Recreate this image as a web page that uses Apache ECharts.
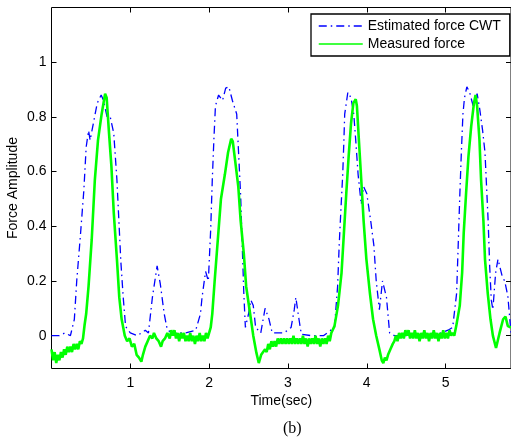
<!DOCTYPE html>
<html>
<head>
<meta charset="utf-8">
<script src="https://cdn.jsdelivr.net/npm/echarts@6/dist/echarts.min.js"></script>
<style>html,body{margin:0;padding:0;background:#fff}#c{width:511px;height:442px}</style>
</head>
<body>
<div id="c"></div>
<script>
// x tick values / labels
var xTicks = [1, 2, 3, 4, 5];
var yTicks = [0, 0.2, 0.4, 0.6, 0.8, 1];
var yTickLabels = ['0', '0.2', '0.4', '0.6', '0.8', '1'];
var seriesNames = ['Estimated force CWT', 'Measured force'];

// Estimated force CWT [time, amplitude]
var estimated = [
[0,0],[0.1,0],[0.17,0.01],[0.24,0.0],[0.29,0.06],[0.32,0.2],[0.365,0.36],[0.41,0.53],[0.44,0.69],[0.47,0.75],[0.49,0.715],[0.54,0.79],[0.58,0.85],[0.63,0.88],[0.66,0.86],[0.705,0.80],[0.745,0.80],[0.79,0.74],[0.83,0.57],[0.855,0.42],[0.88,0.27],[0.91,0.14],[0.94,0.034],[1.0,0.01],[1.09,0.0],[1.19,0.02],[1.23,0.01],[1.28,0.14],[1.34,0.255],[1.38,0.19],[1.43,0.08],[1.47,0.02],[1.55,0.01],[1.7,0.01],[1.83,0.02],[1.89,0.08],[1.91,0.14],[1.955,0.235],[1.99,0.2],[2.02,0.39],[2.04,0.57],[2.06,0.715],[2.08,0.84],[2.12,0.88],[2.17,0.86],[2.21,0.905],[2.25,0.91],[2.295,0.86],[2.35,0.81],[2.37,0.69],[2.40,0.51],[2.42,0.33],[2.44,0.155],[2.46,0.03],[2.50,0.08],[2.53,0.13],[2.56,0.11],[2.59,0.03],[2.655,0.01],[2.71,0.1],[2.76,0.06],[2.80,0.01],[2.95,0.01],[3.04,0.03],[3.08,0.095],[3.10,0.14],[3.14,0.06],[3.17,0.005],[3.3,0.0],[3.45,0.0],[3.59,0.03],[3.63,0.18],[3.65,0.33],[3.67,0.45],[3.695,0.59],[3.71,0.715],[3.72,0.81],[3.76,0.89],[3.80,0.87],[3.835,0.81],[3.86,0.715],[3.89,0.59],[3.93,0.48],[3.96,0.545],[4.0,0.52],[4.05,0.42],[4.09,0.33],[4.12,0.2],[4.16,0.095],[4.20,0.2],[4.22,0.205],[4.25,0.14],[4.29,0.01],[4.35,0.0],[4.6,0.0],[4.85,0.0],[5.03,0.02],[5.09,0.03],[5.14,0.155],[5.16,0.33],[5.18,0.51],[5.20,0.67],[5.22,0.81],[5.24,0.87],[5.27,0.91],[5.305,0.89],[5.35,0.84],[5.40,0.885],[5.43,0.835],[5.47,0.75],[5.50,0.67],[5.52,0.545],[5.54,0.42],[5.56,0.25],[5.58,0.13],[5.60,0.095],[5.635,0.23],[5.665,0.28],[5.69,0.25],[5.72,0.215],[5.75,0.2],[5.79,0.145],[5.83,0.01]
];

// Measured force [time, amplitude] (noisy trace)
var measured = [
[0.00,-0.05],[0.02,-0.09],[0.04,-0.06],[0.06,-0.10],[0.08,-0.07],[0.10,-0.09],[0.12,-0.06],[0.14,-0.08],[0.16,-0.05],[0.18,-0.07],[0.20,-0.04],[0.22,-0.06],[0.24,-0.04],[0.26,-0.06],[0.28,-0.03],[0.30,-0.05],[0.32,-0.03],[0.34,-0.05],[0.36,-0.02],[0.38,-0.03],[0.40,-0.01],[0.42,0.04],[0.44,0.08],[0.47,0.18],[0.51,0.35],[0.55,0.57],[0.59,0.715],[0.636,0.81],[0.68,0.885],[0.70,0.87],[0.73,0.74],[0.76,0.62],[0.79,0.45],[0.83,0.28],[0.86,0.14],[0.89,0.06],[0.93,0.0],[0.96,-0.02],[0.99,-0.01],[1.02,-0.04],[1.05,-0.03],[1.08,-0.07],[1.11,-0.08],[1.14,-0.095],[1.16,-0.07],[1.19,-0.04],[1.22,-0.02],[1.25,0.0],[1.28,-0.01],[1.30,0.01],[1.33,-0.01],[1.36,-0.02],[1.39,-0.04],[1.41,-0.02],[1.44,-0.01],[1.47,0.01],[1.50,-0.01],[1.52,0.02],[1.54,0.0],[1.56,0.02],[1.58,-0.01],[1.60,0.01],[1.62,-0.02],[1.64,0.01],[1.66,-0.01],[1.68,0.01],[1.70,-0.02],[1.72,0.0],[1.74,-0.02],[1.76,0.01],[1.78,-0.02],[1.80,0.0],[1.82,-0.03],[1.84,0.0],[1.86,-0.02],[1.88,0.01],[1.90,-0.02],[1.92,0.0],[1.94,-0.02],[1.96,0.01],[1.98,-0.01],[2.00,0.01],[2.02,0.03],[2.04,0.08],[2.07,0.2],[2.11,0.35],[2.15,0.5],[2.20,0.59],[2.24,0.67],[2.28,0.72],[2.30,0.71],[2.33,0.64],[2.37,0.545],[2.40,0.42],[2.44,0.30],[2.47,0.18],[2.52,0.08],[2.56,0.0],[2.60,-0.063],[2.63,-0.1],[2.66,-0.07],[2.685,-0.06],[2.71,-0.05],[2.73,-0.06],[2.75,-0.03],[2.77,-0.05],[2.79,-0.02],[2.81,-0.04],[2.83,-0.02],[2.85,-0.04],[2.87,-0.01],[2.89,-0.03],[2.91,-0.01],[2.93,-0.03],[2.95,-0.01],[2.97,-0.03],[2.99,-0.01],[3.01,-0.03],[3.03,-0.01],[3.05,-0.03],[3.07,0.0],[3.09,-0.03],[3.11,-0.01],[3.13,-0.03],[3.15,-0.01],[3.17,-0.03],[3.19,0.0],[3.21,-0.03],[3.23,-0.01],[3.25,-0.04],[3.27,-0.01],[3.29,-0.03],[3.31,-0.01],[3.33,-0.03],[3.35,0.0],[3.37,-0.03],[3.39,-0.01],[3.41,-0.04],[3.43,-0.01],[3.45,-0.03],[3.47,-0.01],[3.49,-0.03],[3.51,0.0],[3.53,-0.02],[3.55,0.01],[3.59,0.035],[3.635,0.11],[3.68,0.23],[3.71,0.375],[3.74,0.52],[3.77,0.655],[3.80,0.775],[3.83,0.85],[3.86,0.865],[3.875,0.84],[3.90,0.715],[3.93,0.57],[3.96,0.42],[3.995,0.28],[4.04,0.155],[4.08,0.06],[4.12,0.0],[4.16,-0.05],[4.19,-0.09],[4.21,-0.1],[4.23,-0.08],[4.25,-0.09],[4.27,-0.07],[4.30,-0.05],[4.33,-0.03],[4.35,-0.02],[4.37,0.0],[4.39,-0.02],[4.41,0.01],[4.43,-0.01],[4.45,0.01],[4.47,-0.01],[4.49,0.02],[4.51,0.0],[4.53,0.02],[4.55,-0.01],[4.57,0.01],[4.59,-0.01],[4.61,0.02],[4.63,-0.01],[4.65,0.01],[4.67,-0.02],[4.69,0.01],[4.71,-0.01],[4.73,0.02],[4.75,-0.01],[4.77,0.01],[4.79,-0.02],[4.81,0.01],[4.83,-0.01],[4.85,0.02],[4.87,-0.01],[4.89,0.01],[4.91,-0.02],[4.93,0.01],[4.95,-0.01],[4.97,0.02],[4.99,-0.01],[5.01,0.01],[5.03,-0.01],[5.05,0.02],[5.07,0.0],[5.09,0.01],[5.11,0.0],[5.135,0.035],[5.18,0.11],[5.21,0.23],[5.23,0.375],[5.26,0.52],[5.29,0.655],[5.325,0.765],[5.36,0.85],[5.38,0.88],[5.40,0.84],[5.43,0.715],[5.45,0.57],[5.48,0.42],[5.50,0.28],[5.535,0.155],[5.57,0.06],[5.60,0.0],[5.64,-0.045],[5.685,0.01],[5.73,0.06],[5.76,0.07],[5.79,0.035],[5.83,0.03]
];

var X_MIN = 0, X_MAX = 5.83, Y_MIN = -0.12, Y_MAX = 1.2;
var FONT = 'Liberation Sans, Arial, sans-serif';

var chart = echarts.init(document.getElementById('c'), null, {renderer: 'canvas'});

function mkX(pos, labels) {
  return {
    type: 'value', position: pos, min: X_MIN, max: X_MAX,
    axisLine: {show: false, onZero: false},
    splitLine: {show: false},
    axisTick: {show: true, inside: true, length: 5, customValues: xTicks, lineStyle: {color: '#000', width: 1}},
    axisLabel: {show: labels, customValues: xTicks, color: '#000', fontSize: 14, fontFamily: FONT, margin: 8},
    name: labels ? 'Time(sec)' : '', nameLocation: 'middle', nameGap: 26, nameMoveOverlap: false,
    nameTextStyle: {color: '#000', fontSize: 14, fontFamily: FONT}
  };
}
function mkY(pos, labels) {
  return {
    type: 'value', position: pos, min: Y_MIN, max: Y_MAX,
    axisLine: {show: false, onZero: false},
    splitLine: {show: false},
    axisTick: {show: true, inside: true, length: 5, customValues: yTicks, lineStyle: {color: '#000', width: 1}},
    axisLabel: {show: labels, customValues: yTicks, color: '#000', fontSize: 14, fontFamily: FONT, margin: 5,
      formatter: function (v) { var i = yTicks.indexOf(v); return i >= 0 ? yTickLabels[i] : ''; }},
    name: labels ? 'Force Amplitude' : '', nameLocation: 'middle', nameGap: 31, nameMoveOverlap: false,
    nameTextStyle: {color: '#000', fontSize: 14, fontFamily: FONT}
  };
}

chart.setOption({
  animation: false,
  backgroundColor: '#fff',
  grid: {left: 51.5, right: 0, top: 7.5, bottom: 73.5, outerBoundsMode: 'none', containLabel: false,
    show: true, borderColor: '#000', borderWidth: 1, backgroundColor: 'transparent'},
  xAxis: [mkX('bottom', true), mkX('top', false)],
  yAxis: [mkY('left', true), mkY('right', false)],
  legend: {
    orient: 'vertical', left: 311, top: 14,
    padding: [5, 9, 5, 7], itemGap: 4, itemWidth: 44, itemHeight: 14,
    backgroundColor: '#fff', borderColor: '#000', borderWidth: 1.3, borderRadius: 0,
    itemStyle: {opacity: 0},
    lineStyle: {width: 1.5},
    textStyle: {color: '#000', fontSize: 14, fontFamily: FONT},
    data: seriesNames
  },
  series: [
    {name: seriesNames[0], type: 'line', data: estimated, showSymbol: false, symbol: 'none', z: 3,
     lineStyle: {color: '#0000ff', width: 1.3, type: [8, 4, 1.5, 4]}, itemStyle: {color: '#0000ff'}},
    {name: seriesNames[1], type: 'line', data: measured, showSymbol: false, symbol: 'none', z: 4,
     lineStyle: {color: '#00ff00', width: 2.6}, itemStyle: {color: '#00ff00'}}
  ],
  graphic: [
    {type: 'text', left: 283, top: 421, style: {text: '(b)', fill: '#000', font: '16px "Liberation Serif", "Times New Roman", serif'}}
  ]
});
</script>
</body>
</html>
